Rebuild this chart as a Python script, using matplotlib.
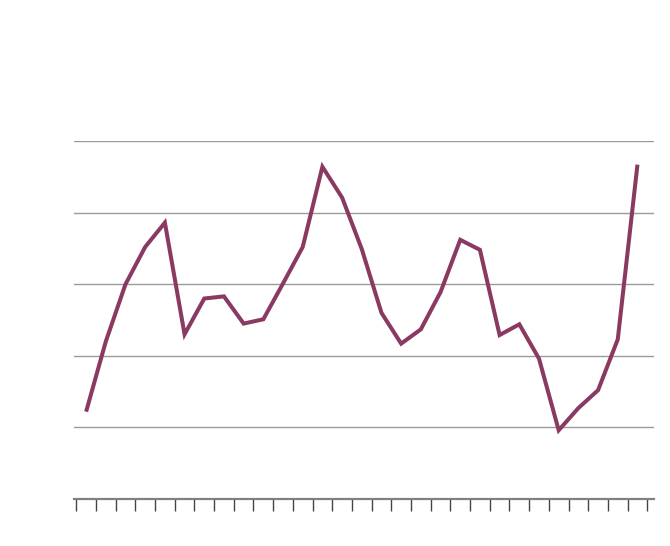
import numpy as np
import matplotlib.pyplot as plt

# Values (one value per category, 29 categories)
values = [1.22, 2.20, 3.00, 3.52, 3.86, 2.30, 2.80, 2.83, 2.45, 2.51,
          3.01, 3.52, 4.64, 4.21, 3.49, 2.60, 2.17, 2.37, 2.89, 3.62,
          3.48, 2.29, 2.44, 1.96, 0.96, 1.27, 1.52, 2.23, 4.67]
grid_levels = [1, 2, 3, 4, 5]

x = np.arange(len(values))

fig = plt.figure(figsize=(6.7, 5.46), dpi=100)
ax = fig.add_axes([74.3 / 670, 47 / 546, (654 - 74.3) / 670, 358 / 546])

# Horizontal gridlines
for lvl in grid_levels:
    ax.axhline(lvl, color='#9a9a9a', lw=1.0, zorder=1)

ax.plot(x, values, color='#8a3a62', lw=2.9, solid_joinstyle='miter',
        solid_capstyle='butt', zorder=3, clip_on=False)

ax.set_xlim(-0.60, 28.84)
ax.set_ylim(0, 5)

# Category boundary ticks below the baseline
ax.set_xticks(np.arange(-0.5, len(values), 1.0))
ax.set_xticklabels([])
ax.set_yticks([])
ax.tick_params(axis='x', length=8.6, width=1.0, color='#444444', direction='out')

for side in ['top', 'left', 'right']:
    ax.spines[side].set_visible(False)
ax.spines['bottom'].set_color('#808080')
ax.spines['bottom'].set_linewidth(1.6)

plt.savefig('out.png', dpi=100)
plt.close()
